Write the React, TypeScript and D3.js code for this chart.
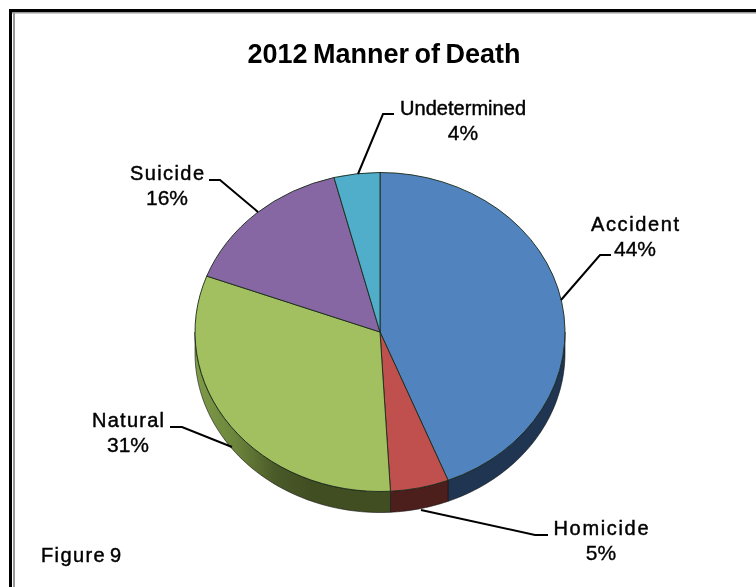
import React from "react";
import * as d3 from "d3";

const categories = ["Accident", "Homicide", "Natural", "Suicide", "Undetermined"];
const sliceValues = [44, 5.1, 31.6, 15.3, 4];
const percentLabels = ["44%", "5%", "31%", "16%", "4%"];
const topColors = ["#5183BF", "#C0504D", "#A2C05F", "#8767A3", "#50AECA"];
const sideColors = ["#1F3552", "#4C1E1C", "#414E22", "#3A2A4A", "#1C4E5E"];

const W = 756, H = 587;
const cx = 380, cy = 332, rx = 185, ry = 159.5, depth = 21;

const labelLayout: Record<string, { x: number; y: number; nameW: number; leader: [number, number][] }> = {
  Accident: { x: 635, y: 231, nameW: 88, leader: [[561, 300], [600, 255], [611, 255]] },
  Homicide: { x: 601, y: 535, nameW: 95, leader: [[421, 510], [535, 535], [548, 535]] },
  Natural: { x: 128, y: 427, nameW: 72, leader: [[232, 447], [182, 427], [170, 427]] },
  Suicide: { x: 167, y: 180, nameW: 74, leader: [[258, 212], [220, 180], [209, 180]] },
  Undetermined: { x: 463, y: 115, nameW: 126, leader: [[358, 174], [383, 114], [394, 114]] },
};

const font = "'Liberation Sans', Arial, sans-serif";
const labelSize = 20;
const pctSize = 21;

export default function App() {
  const pie = d3.pie<number>().sort(null).value((d) => d);
  const arcs = pie(sliceValues);
  const arcGen = d3.arc<d3.PieArcDatum<number>>().innerRadius(0).outerRadius(rx);
  const line = d3.line<[number, number]>();

  const px = (a: number, dy = 0): [number, number] => [cx + rx * Math.sin(a), cy - ry * Math.cos(a) + dy];

  const sidePath = (start: number, end: number) => {
    const a0 = Math.max(start, Math.PI / 2);
    const a1 = Math.min(end, (3 * Math.PI) / 2);
    if (a1 <= a0) return null;
    const samples = d3.range(0, 61).map((i) => a0 + ((a1 - a0) * i) / 60);
    const pts = [...samples.map((a) => px(a)), ...samples.slice().reverse().map((a) => px(a, depth))];
    return line(pts) + "Z";
  };

  return (
    <svg width={W} height={H} style={{ position: "absolute", left: 0, top: 0, background: "#fff" }}>
      <defs>
        <linearGradient id="greenSide" gradientUnits="userSpaceOnUse" x1={195} x2={310} y1={0} y2={0}>
          <stop offset="0" stopColor="#7F9C48" />
          <stop offset="0.35" stopColor="#6C853C" />
          <stop offset="0.7" stopColor="#4A5A28" />
          <stop offset="1" stopColor="#414E22" />
        </linearGradient>
        <filter id="soft" x="-5%" y="-20%" width="110%" height="140%">
          <feGaussianBlur stdDeviation="0.35" />
        </filter>
      </defs>

      <rect x={0} y={0} width={W} height={H} fill="#fff" />
      <rect x={9} y={9} width={W - 9} height={3} fill="#000" />
      <rect x={9} y={9} width={3} height={H - 9} fill="#000" />
      <rect x={12} y={12} width={W - 12} height={1.5} fill="#999" />
      <rect x={13} y={12} width={2} height={H - 12} fill="#999" />

      <g filter="url(#soft)">
        <text x={384} y={63} textAnchor="middle" fontFamily={font} fontWeight={700} fontSize={27} wordSpacing={-2} fill="#000">2012 Manner of Death</text>
      </g>

      {arcs.map((a, i) => {
        const d = sidePath(a.startAngle, a.endAngle);
        return d ? (
          <path key={categories[i]} d={d} fill={categories[i] === "Natural" ? "url(#greenSide)" : sideColors[i]} stroke="#111" strokeWidth={0.6} />
        ) : null;
      })}

      <g transform={`translate(${cx},${cy}) scale(1,${ry / rx})`}>
        {arcs.map((a, i) => (
          <path key={categories[i]} d={arcGen(a) as string} fill={topColors[i]} stroke="#1a2a1a" strokeWidth={0.9} vectorEffect="non-scaling-stroke" />
        ))}
      </g>

      {categories.map((c, i) => {
        const l = labelLayout[c];
        return (
          <g key={c}>
            <path d={line(l.leader) as string} fill="none" stroke="#000" strokeWidth={2} />
            <g filter="url(#soft)">
              <text x={l.x} y={l.y} textAnchor="middle" fontFamily={font} fontSize={labelSize} textLength={l.nameW} lengthAdjust="spacing" fill="#000" stroke="#000" strokeWidth={0.45}>{c}</text>
              <text x={l.x} y={l.y + 24.5} textAnchor="middle" fontFamily={font} fontSize={pctSize} fill="#000" stroke="#000" strokeWidth={0.35}>{percentLabels[i]}</text>
            </g>
          </g>
        );
      })}

      <g filter="url(#soft)">
        <text x={41} y={562} fontFamily={font} fontSize={labelSize} letterSpacing={1.4} wordSpacing={-3} fill="#000" stroke="#000" strokeWidth={0.45}>Figure 9</text>
      </g>
    </svg>
  );
}
